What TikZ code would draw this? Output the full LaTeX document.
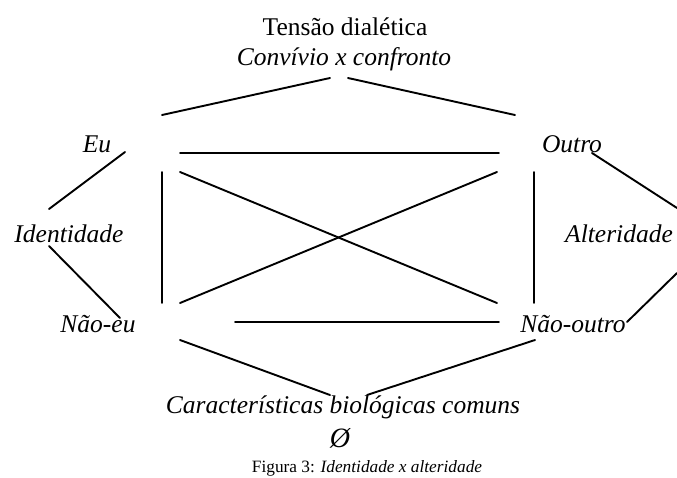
\documentclass[tikz,border=0pt]{standalone}
\usepackage{fontspec}
\setmainfont{Liberation Serif}
\begin{document}
\begin{tikzpicture}[x=1pt,y=-1pt,
  lbl/.style={inner sep=0pt,anchor=base,font=\fontsize{25.5}{30}\selectfont\itshape},
  ttl/.style={inner sep=0pt,anchor=base,font=\fontsize{25.5}{30}\selectfont},
  figcap/.style={inner sep=0pt,anchor=base,font=\fontsize{17.3}{20}\selectfont},
  ln/.style={line width=1.9pt,line cap=round}]
\useasboundingbox (0,0) rectangle (677,477);
% texts
\node[ttl] (tens) at (345,35) {Tensão dialética};
\node[lbl] (conv) at (344,65) {Convívio x confronto};
\node[lbl] (eu) at (97,152) {Eu};
\node[lbl] (ident) at (69,242) {Identidade};
\node[lbl] (naoeu) at (98,332) {Não-eu};
\node[lbl] (outro) at (572,152) {Outro};
\node[lbl] (alter) at (619,242) {Alteridade};
\node[lbl] (naooutro) at (573,332) {Não-outro};
\node[lbl] (carac) at (343,413) {Características biológicas comuns};
\node[lbl,font=\fontsize{28}{30}\selectfont\itshape] (vazio) at (340,447) {Ø};
\node[figcap] (fig) at (367,472) {Figura 3: \textit{Identidade x alteridade}};
% endpoints
\coordinate (t1) at (162,115); \coordinate (t2) at (330,78);
\coordinate (t3) at (348,78);  \coordinate (t4) at (515,115);
\coordinate (h1) at (180,153); \coordinate (h2) at (499,153);
\coordinate (lv1) at (162,172); \coordinate (lv2) at (162,303);
\coordinate (rv1) at (534,172); \coordinate (rv2) at (534,303);
\coordinate (d1) at (180,172); \coordinate (d2) at (497,303);
\coordinate (d3) at (180,303); \coordinate (d4) at (497,172);
\coordinate (b1) at (235,322); \coordinate (b2) at (499,322);
\coordinate (bl1) at (180,340); \coordinate (bl2) at (330,395);
\coordinate (br1) at (367,395); \coordinate (br2) at (535,340);
\coordinate (ei1) at (125,152); \coordinate (ei2) at (49,209);
\coordinate (in1) at (49,246); \coordinate (in2) at (120,318);
\coordinate (oa1) at (592,153); \coordinate (oa2) at (677,208);
\coordinate (an1) at (677,273); \coordinate (an2) at (627,322);
% connectors
\draw[ln] (t1) -- (t2);
\draw[ln] (t3) -- (t4);
\draw[ln] (h1) -- (h2);
\draw[ln] (lv1) -- (lv2);
\draw[ln] (rv1) -- (rv2);
\draw[ln] (d1) -- (d2);
\draw[ln] (d3) -- (d4);
\draw[ln] (b1) -- (b2);
\draw[ln] (bl1) -- (bl2);
\draw[ln] (br1) -- (br2);
\draw[ln] (ei1) -- (ei2);
\draw[ln] (in1) -- (in2);
\draw[ln] (oa1) -- (oa2);
\draw[ln] (an1) -- (an2);
\end{tikzpicture}
\end{document}
